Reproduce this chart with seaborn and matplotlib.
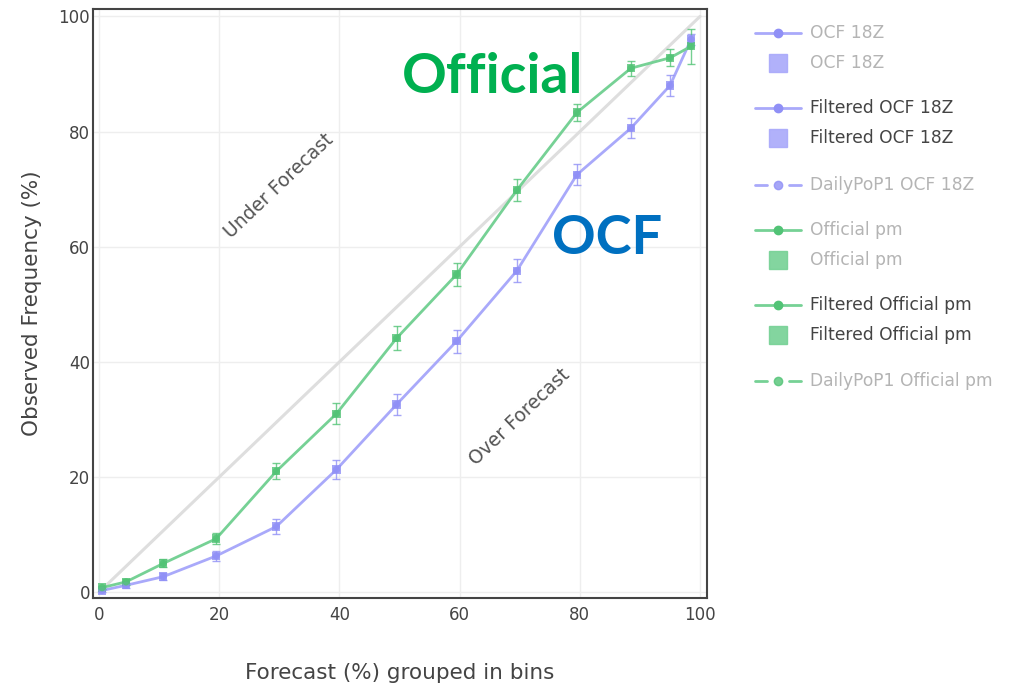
import numpy as np
import pandas as pd
import matplotlib
matplotlib.use("Agg")
import matplotlib.pyplot as plt
import seaborn as sns

### Reliability data (forecast bin centre vs observed frequency, %)
forecast_bins = [0.5, 4.5, 10.7, 19.5, 29.5, 39.5, 49.5, 59.5, 69.5, 79.5, 88.5, 95.0, 98.5]
official_obs = [0.8, 1.8, 5.0, 9.3, 21.0, 31.0, 44.1, 55.2, 69.8, 83.3, 91.0, 92.8, 94.8]
official_err = [0.3, 0.5, 0.7, 1.0, 1.4, 1.8, 2.1, 2.0, 1.9, 1.5, 1.3, 1.5, 3.0]
ocf_obs = [0.3, 1.2, 2.7, 6.3, 11.4, 21.3, 32.6, 43.6, 55.8, 72.5, 80.6, 88.0, 96.0]
ocf_err = [0.2, 0.4, 0.6, 0.8, 1.3, 1.7, 1.9, 2.0, 2.0, 1.8, 1.8, 1.8, 1.0]

legend_labels = ['OCF 18Z', 'OCF 18Z', 'Filtered OCF 18Z', 'Filtered OCF 18Z', 'DailyPoP1 OCF 18Z',
                 'Official pm', 'Official pm', 'Filtered Official pm', 'Filtered Official pm',
                 'DailyPoP1 Official pm']
legend_kinds = ['line', 'square', 'line', 'square', 'dash', 'line', 'square', 'line', 'square', 'dash']
legend_active = [False, False, True, True, False, False, False, True, True, False]

blue_line = '#a9a9fa'
blue_mark = '#9090f6'
green_line = '#76d195'
green_mark = '#52c376'

df = pd.DataFrame({
    'forecast': forecast_bins * 2,
    'observed': official_obs + ocf_obs,
    'err': official_err + ocf_err,
    'series': ['Official'] * len(forecast_bins) + ['OCF'] * len(forecast_bins),
})

sns.set_style('white')
plt.rcParams['font.family'] = ['DejaVu Sans']

fig = plt.figure(figsize=(10.23, 6.83), dpi=100)
ax = fig.add_axes([0.0909, 0.1245, 0.6005, 0.8625])

### perfect reliability diagonal
ax.plot([0, 100], [0, 100], color='#dedede', lw=2.2, zorder=1)

sns.lineplot(data=df, x='forecast', y='observed', hue='series',
             palette={'Official': green_line, 'OCF': blue_line},
             hue_order=['OCF', 'Official'], lw=2.0, legend=False, ax=ax, zorder=3)

for name, mcol in [('OCF', blue_mark), ('Official', green_mark)]:
    sub = df[df['series'] == name]
    ax.errorbar(sub['forecast'], sub['observed'], yerr=sub['err'], fmt='none',
                ecolor=mcol, elinewidth=1.0, capsize=3, alpha=0.8, zorder=4)
    sns.scatterplot(data=sub, x='forecast', y='observed', marker='s', s=36,
                    color=mcol, edgecolor='none', alpha=0.8, ax=ax, zorder=5, legend=False)
    sns.scatterplot(data=sub, x='forecast', y='observed', marker='o', s=28,
                    color=mcol, edgecolor='none', alpha=0.85, ax=ax, zorder=6, legend=False)

ax.set_xlim(-1, 101.2)
ax.set_ylim(-1, 101.3)
ax.set_xticks([0, 20, 40, 60, 80, 100])
ax.set_yticks([0, 20, 40, 60, 80, 100])
ax.grid(True, color='#eeeeee', lw=1.0)
ax.set_axisbelow(True)
for sp in ax.spines.values():
    sp.set_color('#444444')
    sp.set_linewidth(1.5)
    sp.set_visible(True)
ax.tick_params(axis='both', labelsize=12, colors='#444444', length=0)
ax.tick_params(axis='y', pad=2)
ax.tick_params(axis='x', pad=6)
ax.set_xlabel('Forecast (%) grouped in bins', fontsize=15.5, color='#444444', labelpad=28)
ax.set_ylabel('Observed Frequency (%)', fontsize=15.5, color='#444444', labelpad=12)

### region annotations
ax.text(30, 70.5, 'Under Forecast', rotation=43.5, fontsize=13.5, color='#555555',
        ha='center', va='center', rotation_mode='anchor')
ax.text(70, 30.5, 'Over Forecast', rotation=43.5, fontsize=13.5, color='#555555',
        ha='center', va='center', rotation_mode='anchor')
ax.text(65.5, 89.5, 'Official', fontsize=40, fontweight='bold', color='#00b050',
        family='Lato', ha='center', va='center')
ax.text(84.5, 61.5, 'OCF', fontsize=39, fontweight='bold', color='#0070c0',
        family='Lato', ha='center', va='center')

### plotly-style legend on the right
leg = fig.add_axes([0, 0, 1, 1], zorder=-1)
leg.set_xlim(0, 1023)
leg.set_ylim(683, 0)
leg.axis('off')
ys = [33, 63, 108, 138, 185, 230, 260, 305, 335, 381]
for i, (lab, kind, act) in enumerate(zip(legend_labels, legend_kinds, legend_active)):
    y = ys[i]
    is_blue = 'OCF' in lab
    lc = blue_line if is_blue else green_line
    mc = blue_mark if is_blue else green_mark
    if kind == 'line':
        leg.plot([755, 801], [y, y], color=lc, lw=2)
        leg.plot([778], [y], 'o', color=mc, ms=6)
    elif kind == 'dash':
        leg.plot([755, 767], [y, y], color=lc, lw=2)
        leg.plot([789, 801], [y, y], color=lc, lw=2)
        leg.plot([778], [y], 'o', color=mc, ms=6, alpha=0.8)
    else:
        leg.plot([778], [y], 's', color=lc, ms=13, alpha=0.9)
    leg.text(810, y, lab, fontsize=12.3, color='#444444' if act else '#b4b4b4',
             va='center', ha='left')

fig.savefig('out.png', dpi=100, facecolor='white')
